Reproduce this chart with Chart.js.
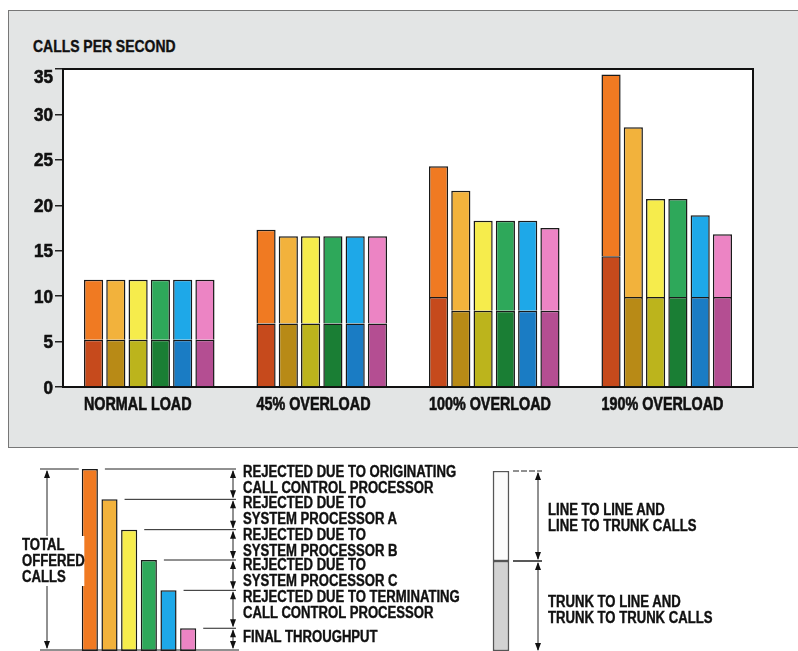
<!DOCTYPE html>
<html>
<head>
<meta charset="utf-8">
<script src="https://cdn.jsdelivr.net/npm/chart.js@4.4.1/dist/chart.umd.min.js"></script>
<style>
  body { margin: 0; width: 798px; height: 651px; background: #fff; position: relative; overflow: hidden;
         font-family: 'Liberation Sans', Arial, sans-serif; font-weight: bold; color: #111; }
  #panel { position: absolute; left: 8px; top: 10px; width: 800px; height: 436px; background: #e3e5e5; border: 1px solid #777; }
  .wrap { position: absolute; }
  .lbl { position: absolute; font-size: 16px; line-height: 16px; white-space: nowrap; transform: scaleX(0.82); transform-origin: 0 0;
         -webkit-text-stroke: 0.4px #111; }
  #yTitle { left: 33px; top: 38px; font-size: 17px; line-height: 18px; }
</style>
</head>
<body>
<div id="panel"></div>
<div id="yTitle" class="lbl">CALLS PER SECOND</div>
<div class="wrap" style="left:0;top:0;width:798px;height:450px"><canvas id="callsChart"></canvas></div>
<div class="wrap" style="left:0;top:450px;width:480px;height:201px"><canvas id="stairChart"></canvas></div>
<div class="wrap" style="left:470px;top:450px;width:100px;height:201px"><canvas id="mixChart"></canvas></div>

<div class="lbl" style="left:22px;top:536px;background:#fff;padding:1px 0">TOTAL<br>OFFERED<br>CALLS</div>
<div class="lbl" style="left:243px;top:464px">REJECTED DUE TO ORIGINATING<br>CALL CONTROL PROCESSOR</div>
<div class="lbl" style="left:243px;top:495px">REJECTED DUE TO<br>SYSTEM PROCESSOR A</div>
<div class="lbl" style="left:243px;top:527px">REJECTED DUE TO<br>SYSTEM PROCESSOR B</div>
<div class="lbl" style="left:243px;top:557px">REJECTED DUE TO<br>SYSTEM PROCESSOR C</div>
<div class="lbl" style="left:243px;top:589px">REJECTED DUE TO TERMINATING<br>CALL CONTROL PROCESSOR</div>
<div class="lbl" style="left:243px;top:629px">FINAL THROUGHPUT</div>
<div class="lbl" style="left:548px;top:502px">LINE TO LINE AND<br>LINE TO TRUNK CALLS</div>
<div class="lbl" style="left:548px;top:594px">TRUNK TO LINE AND<br>TRUNK TO TRUNK CALLS</div>

<script>
const FONT = "'Liberation Sans', Arial, sans-serif";

// load levels
const categories = ["NORMAL LOAD", "45% OVERLOAD", "100% OVERLOAD", "190% OVERLOAD"];
const yTicks = [0, 5, 10, 15, 20, 25, 30, 35];

// calls per second left after each stage (total height of each bar)
const stageNames = ["Offered", "After originating CCP", "After system processor A",
                    "After system processor B", "After system processor C", "Final throughput"];
const offered      = [11.8, 17.3, 24.3, 34.4];
const afterOrigCcp = [11.8, 16.6, 21.6, 28.6];
const afterProcA   = [11.8, 16.6, 18.3, 20.7];
const afterProcB   = [11.8, 16.6, 18.3, 20.7];
const afterProcC   = [11.8, 16.6, 18.3, 18.9];
const finalThru    = [11.8, 16.6, 17.5, 16.8];

// trunk to line / trunk to trunk part (lower, darker block)
const trunkOffered = [5.2, 7.0, 9.9, 14.4];
const trunkRest    = [5.2, 7.0, 8.4, 9.9];

const stageTotals = [offered, afterOrigCcp, afterProcA, afterProcB, afterProcC, finalThru];
const stageTrunk = [trunkOffered, trunkRest, trunkRest, trunkRest, trunkRest, trunkRest];

const topColors = ["#f07a22", "#f2b23c", "#f6ec4c", "#2ea85a", "#1ea8e8", "#ec84c4"];
const bottomColors = ["#c64a1c", "#b88a16", "#bcb41c", "#1a7e34", "#1a7cc4", "#b44e92"];

// legend diagram (illustrative heights)
const stairHeights = [6, 5, 4, 3, 2, 0.75];
const mixTrunk = [1];
const mixLine = [1];

const datasets = [];
stageNames.forEach((name, i) => {
  datasets.push({
    label: name + " (trunk)",
    data: stageTrunk[i],
    backgroundColor: bottomColors[i],
    stack: "s" + i,
  });
  datasets.push({
    label: name + " (line)",
    data: stageTotals[i].map((t, j) => +(t - stageTrunk[i][j]).toFixed(2)),
    backgroundColor: topColors[i],
    stack: "s" + i,
  });
});
datasets.forEach((ds) => {
  ds.borderColor = "#1a1a1a";
  ds.borderWidth = 1.5;
  ds.categoryPercentage = 0.775;
  ds.barPercentage = 0.86;
});

// white plot box with black frame
const plotFrame = {
  id: "plotFrame",
  beforeDraw(c) {
    const a = c.chartArea;
    const ctx = c.ctx;
    ctx.save();
    ctx.fillStyle = "#fff";
    ctx.fillRect(a.left, a.top, a.right - a.left, a.bottom - a.top);
    ctx.restore();
  },
  afterDraw(c) {
    const a = c.chartArea;
    const ctx = c.ctx;
    ctx.save();
    ctx.strokeStyle = "#111";
    ctx.lineWidth = 2;
    ctx.beginPath();
    ctx.moveTo(a.left, a.top);
    ctx.lineTo(a.right, a.top);
    ctx.lineTo(a.right, a.bottom);
    ctx.stroke();
    ctx.restore();
  },
};

// narrow bold tick labels (no condensed font installed, so squeeze Liberation Sans)
function narrowText(ctx, txt, x, y, sx) {
  ctx.save();
  ctx.translate(x, y);
  ctx.scale(sx, 1);
  ctx.fillText(txt, 0, 0);
  ctx.strokeText(txt, 0, 0);
  ctx.restore();
}

const narrowLabels = {
  id: "narrowLabels",
  afterDraw(c) {
    const ctx = c.ctx;
    const a = c.chartArea;
    const xs = c.scales.x;
    const ys = c.scales.y;
    const firstBars = c.getDatasetMeta(0).data;
    ctx.save();
    ctx.fillStyle = "#111";
    ctx.strokeStyle = "#111";
    ctx.lineWidth = 0.6;
    ctx.textBaseline = "alphabetic";
    // category names sit flush with the left edge of each group
    ctx.font = "bold 17.5px " + FONT;
    ctx.textAlign = "left";
    xs.ticks.forEach((t, i) => {
      const b = firstBars[i];
      narrowText(ctx, xs.getLabelForValue(t.value), b.x - b.width / 2, a.bottom + 23, 0.82);
    });
    ctx.font = "bold 18px " + FONT;
    ctx.textAlign = "right";
    ys.ticks.forEach((t, i) => {
      const mid = Math.max(ys.getPixelForTick(i), a.top + 7);
      narrowText(ctx, String(t.value), a.left - 10, mid + 6.5, 0.95);
    });
    ctx.restore();
  },
};

new Chart(document.getElementById("callsChart"), {
  type: "bar",
  data: { labels: categories, datasets: datasets },
  options: {
    responsive: true,
    maintainAspectRatio: false,
    animation: false,
    layout: { padding: { top: 69, right: 45, left: 0, bottom: 0 } },
    plugins: { legend: { display: false }, tooltip: { enabled: false } },
    scales: {
      x: {
        stacked: true,
        grid: { display: false, drawTicks: false },
        border: { display: true, color: "#111", width: 2 },
        ticks: { display: false },
        afterFit(scale) { scale.height = 63; },
      },
      y: {
        stacked: true,
        min: 0,
        max: 35,
        afterBuildTicks(scale) { scale.ticks = yTicks.map((v) => ({ value: v })); },
        grid: { drawOnChartArea: false, drawTicks: true, tickLength: 8, color: "#222", lineWidth: 1.5 },
        border: { display: true, color: "#111", width: 2 },
        ticks: { display: false },
        afterFit(scale) { scale.width = 63; },
      },
    },
  },
  plugins: [plotFrame, narrowLabels],
});

function arrowHead(ctx, x, y, dir) {
  ctx.beginPath();
  ctx.moveTo(x, y);
  ctx.lineTo(x - 3, y - dir * 8);
  ctx.lineTo(x + 3, y - dir * 8);
  ctx.closePath();
  ctx.fill();
}

function dimArrow(ctx, x, y1, y2) {
  ctx.beginPath();
  ctx.moveTo(x, y1 + 2);
  ctx.lineTo(x, y2 - 2);
  ctx.stroke();
  arrowHead(ctx, x, y1 + 1, -1);
  arrowHead(ctx, x, y2 - 1, 1);
}

const stairNotes = {
  id: "stairNotes",
  afterDraw(c) {
    const ctx = c.ctx;
    const a = c.chartArea;
    const bars = c.getDatasetMeta(0).data;
    const arrowX = 233;
    ctx.save();
    ctx.strokeStyle = "#222";
    ctx.fillStyle = "#111";
    ctx.lineWidth = 1;
    const levels = [];
    bars.forEach((b) => {
      ctx.beginPath();
      ctx.moveTo(b.x + b.width / 2 + 7, b.y);
      ctx.lineTo(arrowX + 3, b.y);
      ctx.stroke();
      levels.push(b.y);
    });
    levels.push(a.bottom - 1);
    ctx.beginPath();
    ctx.moveTo(40, a.bottom - 1);
    ctx.lineTo(arrowX + 6, a.bottom - 1);
    ctx.stroke();
    for (let i = 0; i < levels.length - 1; i++) dimArrow(ctx, arrowX, levels[i], levels[i + 1]);
    // total offered calls
    ctx.beginPath();
    ctx.moveTo(40, bars[0].y);
    ctx.lineTo(bars[0].x - bars[0].width / 2 - 3, bars[0].y);
    ctx.stroke();
    dimArrow(ctx, 47, bars[0].y, a.bottom - 1);
    ctx.restore();
  },
};

new Chart(document.getElementById("stairChart"), {
  type: "bar",
  data: {
    labels: stageNames,
    datasets: [{
      data: stairHeights,
      backgroundColor: topColors,
      borderColor: "#1a1a1a",
      borderWidth: 1.5,
      borderSkipped: false,
      barPercentage: 0.82,
      categoryPercentage: 1,
    }],
  },
  options: {
    responsive: true,
    maintainAspectRatio: false,
    animation: false,
    layout: { padding: { top: 19, right: 282, left: 80, bottom: 0 } },
    plugins: { legend: { display: false }, tooltip: { enabled: false } },
    scales: { x: { display: false }, y: { display: false, min: 0, max: 6 } },
  },
  plugins: [stairNotes],
});

const mixNotes = {
  id: "mixNotes",
  afterDraw(c) {
    const ctx = c.ctx;
    const a = c.chartArea;
    const bottom = c.getDatasetMeta(0).data[0];
    const top = c.getDatasetMeta(1).data[0];
    const right = top.x + top.width / 2;
    const arrowX = 68;
    ctx.save();
    ctx.strokeStyle = "#222";
    ctx.fillStyle = "#111";
    ctx.lineWidth = 1;
    ctx.setLineDash([6, 2]);
    ctx.beginPath();
    ctx.moveTo(right + 4, top.y);
    ctx.lineTo(arrowX + 4, top.y);
    ctx.stroke();
    ctx.setLineDash([]);
    ctx.lineWidth = 1.5;
    ctx.beginPath();
    ctx.moveTo(right + 4, bottom.y);
    ctx.lineTo(arrowX + 4, bottom.y);
    ctx.stroke();
    ctx.lineWidth = 1;
    dimArrow(ctx, arrowX, top.y, bottom.y);
    dimArrow(ctx, arrowX, bottom.y, a.bottom + 1);
    ctx.restore();
  },
};

new Chart(document.getElementById("mixChart"), {
  type: "bar",
  data: {
    labels: ["mix"],
    datasets: [
      { data: mixTrunk, backgroundColor: "#d2d2d2", borderColor: "#555", borderWidth: 1.5, borderSkipped: false, barThickness: 16 },
      { data: mixLine, backgroundColor: "#fbfbfb", borderColor: "#555", borderWidth: 1.5, borderSkipped: false, barThickness: 16 },
    ],
  },
  options: {
    responsive: true,
    maintainAspectRatio: false,
    animation: false,
    layout: { padding: { top: 21, right: 53, left: 15, bottom: 0 } },
    plugins: { legend: { display: false }, tooltip: { enabled: false } },
    scales: { x: { display: false, stacked: true }, y: { display: false, stacked: true, min: 0, max: 2 } },
  },
  plugins: [mixNotes],
});
</script>
</body>
</html>
